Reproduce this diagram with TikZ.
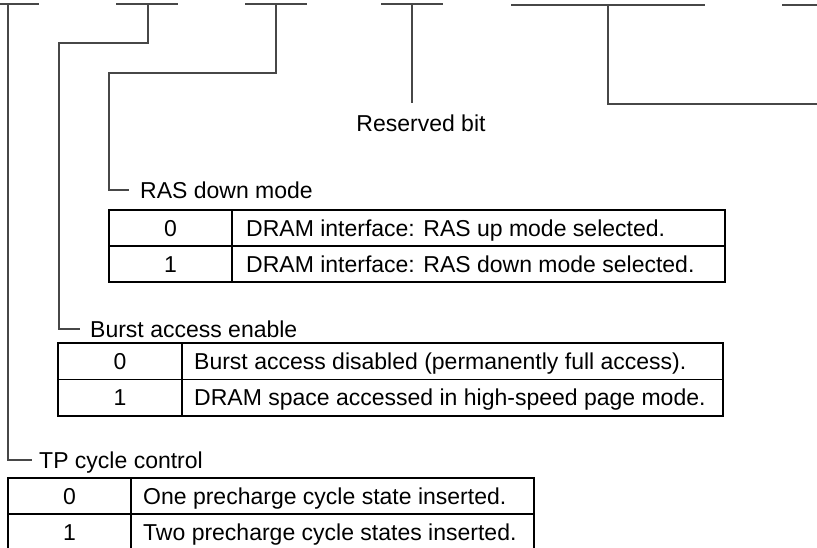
\documentclass[tikz,border=0pt]{standalone}
\usepackage{fontspec}
\setmainfont{Liberation Sans}
\begin{document}
\begin{tikzpicture}[x=1pt, y=-1pt, every node/.style={font=\fontsize{23}{27}\selectfont, inner sep=0pt, text height=16.5pt, text depth=0pt}, line cap=butt, line join=miter]
  \tikzset{field/.style={draw=black!72, line width=1.3pt}, lead/.style={draw=black!72, line width=1.3pt}, cell/.style={draw=black, line width=1.7pt}}
  \useasboundingbox (0,0) rectangle (817,547);

  % Bit fields along the top edge; each field carries a named tap point.
  \foreach \a/\b/\y/\t/\n in {0/39/4/8/tp, 116/178/4/148/burst, 245/307/4/276/ras, 381/443/4/412/rsv, 511/705/5/608/upper} {
    \draw[field] (\a,\y) -- (\b,\y);
    \coordinate (\n) at (\t,\y);
  }
  \draw[field] (782,5) -- (817,5);

  % Field labels.
  \node[anchor=north] (rsvlabel) at (421,115) {Reserved bit};
  \node[anchor=west] (raslabel) at (140,190) {RAS down mode};
  \node[anchor=west] (burstlabel) at (90,329) {Burst access enable};
  \node[anchor=west] (tplabel) at (39,460) {TP cycle control};

  % Leads from the taps down to their labels.
  \coordinate (rasturn) at (109,73);
  \coordinate (burstturn) at (59,43);
  \coordinate (upperend) at (817,104);
  \draw[lead, shorten >=12pt] (rsv) -- (rsv |- rsvlabel.north);
  \draw[lead] (upper) |- (upperend);
  \draw[lead] (ras) |- (rasturn) |- ([xshift=-11pt]raslabel.west);
  \draw[lead] (burst) |- (burstturn) |- ([xshift=-10pt]burstlabel.west);
  \draw[lead] (tp) |- ([xshift=-7pt]tplabel.west);

  % RAS down mode table.
  \begin{scope}[shift={(109,210)}]
    \draw[cell] (0,0) rectangle (616,72);
    \draw[cell] (0,36) -- (616,36) (123,0) -- (123,72);
    \node (ras0) at (61.5,18) {0};
    \node (ras1) at (61.5,54) {1};
    \node[anchor=west] (rasup) at (137,18) {DRAM interface: RAS up mode selected.};
    \node[anchor=west] (rasdown) at (137,54) {DRAM interface: RAS down mode selected.};
  \end{scope}

  % Burst access enable table.
  \begin{scope}[shift={(58,343)}]
    \draw[cell] (0,0) rectangle (665,73);
    \draw[cell] (0,36.5) -- (665,36.5) (124,0) -- (124,73);
    \node (burst0) at (62,18) {0};
    \node (burst1) at (62,54.5) {1};
    \node[anchor=west] (burstoff) at (136,18) {Burst access disabled (permanently full access).};
    \node[anchor=west] (burston) at (136,54.5) {DRAM space accessed in high-speed page mode.};
  \end{scope}

  % TP cycle control table; its lower edge runs off the page.
  \begin{scope}[shift={(8,478)}]
    \draw[cell] (0,74) -- (0,0) -- (526,0) -- (526,74);
    \draw[cell] (0,36) -- (526,36) (123,0) -- (123,74);
    \node (tp0) at (61.5,18) {0};
    \node (tp1) at (61.5,54) {1};
    \node[anchor=west] (tpone) at (135,18) {One precharge cycle state inserted.};
    \node[anchor=west] (tptwo) at (135,54) {Two precharge cycle states inserted.};
  \end{scope}
\end{tikzpicture}
\end{document}
